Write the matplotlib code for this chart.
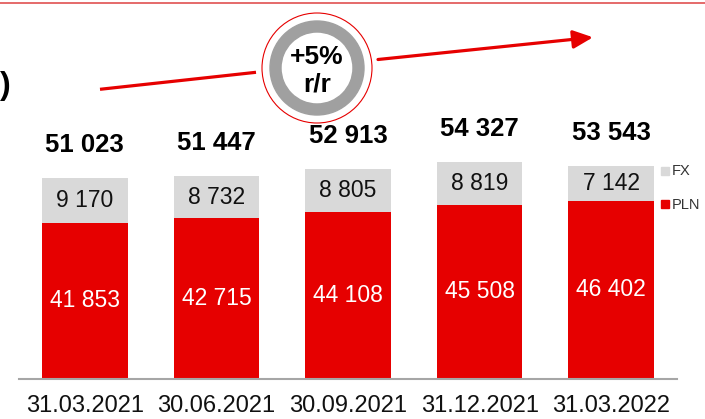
import matplotlib.pyplot as plt
from matplotlib.patches import Circle, Annulus, Rectangle, FancyArrowPatch

plt.rcParams['font.family'] = ['Liberation Sans', 'DejaVu Sans']

# data
dates = ['31.03.2021', '30.06.2021', '30.09.2021', '31.12.2021', '31.03.2022']
pln = [41853, 42715, 44108, 45508, 46402]
fx = [9170, 8732, 8805, 8819, 7142]
totals = [51023, 51447, 52913, 54327, 53543]

RED = '#e60000'
GRAY = '#d9d9d9'
BASE = 9600  # value axis in the original does not start at zero

def fmt(v):
    return f'{v:,}'.replace(',', ' ')

W, H = 705, 419
fig = plt.figure(figsize=(W / 100, H / 100), dpi=100)

ax = fig.add_axes([19 / W, (H - 379) / H, 658 / W, 379 / H])
x = list(range(len(dates)))
ax.bar(x, [p - BASE for p in pln], width=0.65, color=RED, bottom=BASE)
ax.bar(x, fx, width=0.65, color=GRAY, bottom=pln)
ax.set_xlim(-0.5, 4.5)
ax.set_ylim(BASE, 87750)

for i in x:
    ax.text(i, (BASE + pln[i]) / 2, fmt(pln[i]), ha='center', va='center',
            color='white', fontsize=16.5)
    ax.text(i, pln[i] + fx[i] / 2, fmt(fx[i]), ha='center', va='center',
            color='#111111', fontsize=16.5)
    ax.annotate(fmt(totals[i]), (i, totals[i]), xytext=(0, 33),
                textcoords='offset pixels', ha='center', va='center',
                fontsize=18.5, fontweight='bold', color='black')

ax.set_xticks(x)
ax.set_xticklabels(dates, fontsize=17, color='#111111')
ax.tick_params(axis='x', length=0, pad=11.5)
ax.set_yticks([])
for s in ['top', 'left', 'right']:
    ax.spines[s].set_visible(False)
ax.spines['bottom'].set_color('#a6a6a6')
ax.spines['bottom'].set_linewidth(1.5)

# overlay in pixel coordinates for the decorations
ov = fig.add_axes([0, 0, 1, 1])
ov.set_xlim(0, W)
ov.set_ylim(H, 0)
ov.axis('off')

ov.plot([0, W], [3, 3], color='#e05050', lw=1.2)
ov.text(0, 86, ')', fontsize=23, fontweight='bold', ha='left', va='center')

cx, cy = 317, 68
ov.add_patch(Circle((cx, cy), 55, fill=False, ec=RED, lw=0.8))
ov.add_patch(Annulus((cx, cy), 47, 11, color='#a0a0a0'))
ov.text(cx, 57, '+5%', ha='center', va='center', fontsize=19, fontweight='bold')
ov.text(cx, 85, 'r/r', ha='center', va='center', fontsize=19, fontweight='bold')

ov.plot([100, 256], [89.3, 72.3], color=RED, lw=2.3, solid_capstyle='butt')
ov.add_patch(FancyArrowPatch((378, 59.5), (593, 37.3),
                             arrowstyle='-|>,head_length=12,head_width=5.5',
                             mutation_scale=1, color=RED, lw=2.3,
                             shrinkA=0, shrinkB=0))

# legend
ov.add_patch(Rectangle((661, 167), 7.5, 8, color=GRAY))
ov.text(672, 171, 'FX', fontsize=10.5, va='center', color='#333333')
ov.add_patch(Rectangle((661, 200), 7.5, 8, color=RED))
ov.text(672, 204.5, 'PLN', fontsize=10.5, va='center', color='#333333')

fig.savefig('out.png', dpi=100)
